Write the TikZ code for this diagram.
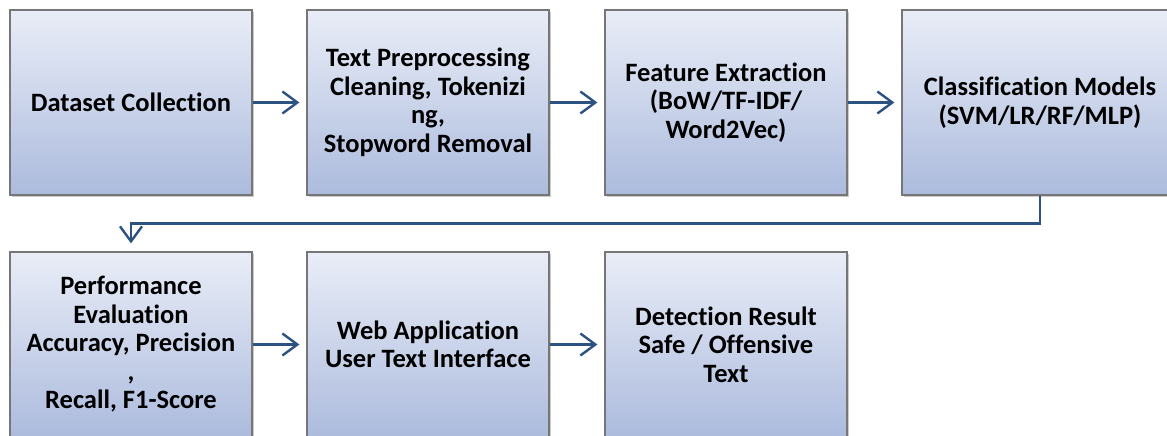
\documentclass[tikz,border=0pt]{standalone}
\usepackage{fontspec}
\setmainfont{Carlito}[Ligatures=NoCommon]
\usetikzlibrary{arrows.meta,shadows}
\definecolor{arrowblue}{RGB}{44,82,130}
\definecolor{boxtop}{RGB}{233,237,247}
\definecolor{boxbot}{RGB}{172,187,221}
\definecolor{boxline}{RGB}{118,118,118}
\tikzset{
  stepbox/.style={draw=boxline, line width=1.2pt, top color=boxtop, bottom color=boxbot,
    minimum height=185pt, inner sep=0pt, align=center,
    font=\fontsize{26.5}{28.5}\selectfont\bfseries,
    drop shadow={opacity=0.35, shadow xshift=2pt, shadow yshift=-2pt, fill=black!60}},
  flow/.style={draw=arrowblue, line width=2.4pt, -{Straight Barb[length=15pt,width=22pt,line width=2.4pt]}}
}
\begin{document}
\begin{tikzpicture}[x=1pt,y=-1pt]
\useasboundingbox (0,0) rectangle (1167,436);
\node[stepbox, minimum width=242pt] (n1) at (131,102.5) {Dataset Collection};
\node[stepbox, minimum width=242pt] (n2) at (428,102.5) {Text Preprocessing\\Cleaning, Tokenizi\\ng,\\Stopword Removal};
\node[stepbox, minimum width=242pt] (n3) at (726,102.5) {Feature Extraction\\(BoW/TF-IDF/\\Word2Vec)};
\node[stepbox, minimum width=276pt] (n4) at (1040,102.5) {Classification Models\\(SVM/LR/RF/MLP)};
\node[stepbox, minimum width=242pt] (n5) at (131,344.5) {Performance\\Evaluation\\Accuracy, Precision\\,\\Recall, F1-Score};
\node[stepbox, minimum width=242pt] (n6) at (428,344.5) {Web Application\\User Text Interface};
\node[stepbox, minimum width=242pt] (n7) at (726,344.5) {Detection Result\\Safe / Offensive\\Text};
\draw[flow, shorten >=7pt] (n1.east) -- (n2.west);
\draw[flow, shorten >=7pt] (n2.east) -- (n3.west);
\draw[flow, shorten >=7pt] (n3.east) -- (n4.west);
\coordinate (c1) at (1040,223.5);
\coordinate (c2) at (131,223.5);
\draw[flow, shorten >=8pt] (n4.south) -- (c1) -- (c2) -- (n5.north);
\draw[flow, shorten >=7pt] (n5.east) -- (n6.west);
\draw[flow, shorten >=7pt] (n6.east) -- (n7.west);
\end{tikzpicture}
\end{document}
